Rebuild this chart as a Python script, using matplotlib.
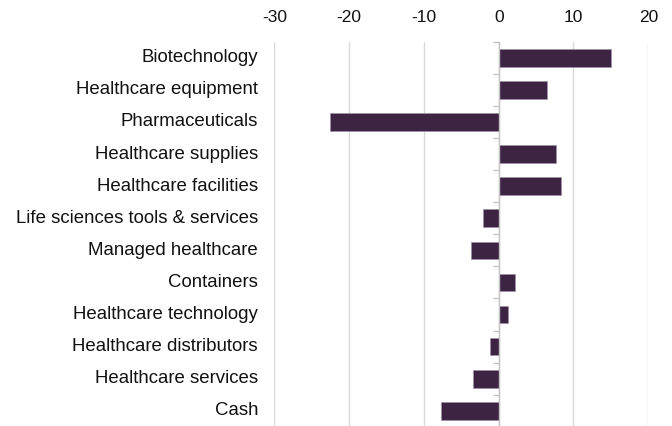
import numpy as np
import matplotlib
matplotlib.use("Agg")
import matplotlib.pyplot as plt

plt.rcParams['font.family'] = ['Liberation Sans', 'DejaVu Sans']

sectors = ["Biotechnology", "Healthcare equipment", "Pharmaceuticals",
           "Healthcare supplies", "Healthcare facilities",
           "Life sciences tools & services", "Managed healthcare",
           "Containers", "Healthcare technology", "Healthcare distributors",
           "Healthcare services", "Cash"]
values = [15.0, 6.5, -22.6, 7.7, 8.3, -2.1, -3.7, 2.2, 1.2, -1.1, -3.5, -7.7]
xticks = [-30, -20, -10, 0, 10, 20]

barcol = "#3d2442"
gridcol = "#d9d9d9"
axiscol = "#c4c4c4"

fig = plt.figure(figsize=(6.72, 4.26), dpi=100)
ax = fig.add_axes([0.4082, -0.002, 0.5565, 0.904])

ypos = np.arange(len(sectors))
ax.barh(ypos, values, height=0.55, color=barcol, edgecolor="#a08fa6",
        linewidth=0.5, zorder=3)

ax.set_xlim(-30, 20)
ax.set_ylim(len(sectors) - 0.5, -0.5)

ax.xaxis.tick_top()
ax.set_xticks(xticks)
ax.set_xticklabels([str(t) for t in xticks], fontsize=12.5, color="#111111")
ax.tick_params(axis='x', length=0, pad=12)
ax.xaxis.grid(True, color=gridcol, linewidth=1)
ax.set_axisbelow(True)

for s in ["top", "right", "bottom"]:
    ax.spines[s].set_visible(False)
ax.spines["left"].set_position(("data", 0))
ax.spines["left"].set_color(axiscol)
ax.spines["left"].set_linewidth(1)
ax.spines["left"].set_zorder(4)

ax.set_yticks(np.arange(len(sectors) + 1) - 0.5)
ax.set_yticklabels([])
ax.tick_params(axis='y', length=4, width=1, color=axiscol, direction='out')

for i, name in enumerate(sectors):
    ax.text(-0.0436, i, name, transform=ax.get_yaxis_transform(),
            ha="right", va="center", fontsize=13.4, color="#111111")

fig.savefig("out.png", dpi=100)
